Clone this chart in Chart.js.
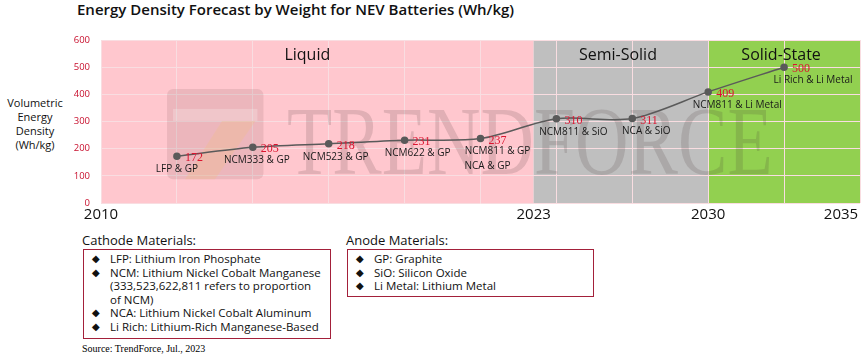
<!DOCTYPE html>
<html>
<head>
<meta charset="utf-8">
<script src="https://cdn.jsdelivr.net/npm/chart.js@4.4.0/dist/chart.umd.min.js"></script>
<style>
  body { margin: 0; background: #fff; font-family: "Open Sans", sans-serif; }
  #page { position: relative; width: 866px; height: 359px; overflow: hidden; }
  #wrap { position: absolute; left: 0; top: 0; width: 866px; height: 227px; }
  .title { position: absolute; left: 77px; top: -1px; font-size: 15px; font-weight: 600; color: #111; white-space: nowrap; }
  .ytitle { position: absolute; left: 0; top: 96px; width: 70px; text-align: center; font-size: 11px; line-height: 14px; color: #111; }
  .lgt { position: absolute; font-size: 13px; color: #111; white-space: nowrap; }
  .box { position: absolute; border: 1.5px solid #a3203a; box-sizing: border-box; padding-top: 2px; }
  .item { position: relative; padding-left: 26px; font-size: 11.5px; line-height: 13.6px; color: #111; }
  .item .b { position: absolute; left: 8px; top: 0; font-size: 10px; }
  .src { position: absolute; left: 82px; top: 343px; font-family: "Liberation Serif", serif; font-size: 10px; color: #000; white-space: nowrap; }
</style>
</head>
<body>
<div id="page">
  <div class="title">Energy Density Forecast by Weight for NEV Batteries (Wh/kg)</div>
  <div class="ytitle">Volumetric<br>Energy<br>Density<br>(Wh/kg)</div>
  <div id="wrap"><canvas id="chart"></canvas></div>

  <div class="lgt" style="left:82px; top:231px;">Cathode Materials:</div>
  <div class="box" style="left:83px; top:249px; width:248px; height:90px;">
    <div class="item"><span class="b">◆</span>LFP: Lithium Iron Phosphate</div>
    <div class="item"><span class="b">◆</span>NCM: Lithium Nickel Cobalt Manganese<br>(333,523,622,811 refers to proportion<br>of NCM)</div>
    <div class="item"><span class="b">◆</span>NCA: Lithium Nickel Cobalt Aluminum</div>
    <div class="item"><span class="b">◆</span>Li Rich: Lithium-Rich Manganese-Based</div>
  </div>

  <div class="lgt" style="left:346px; top:231px;">Anode Materials:</div>
  <div class="box" style="left:347px; top:249px; width:247px; height:48px;">
    <div class="item"><span class="b">◆</span>GP: Graphite</div>
    <div class="item"><span class="b">◆</span>SiO: Silicon Oxide</div>
    <div class="item"><span class="b">◆</span>Li Metal: Lithium Metal</div>
  </div>

  <div class="src">Source: TrendForce, Jul., 2023</div>
</div>

<script>
// data
const stepPos = [1, 2, 3, 4, 5, 6, 7, 8, 9];
const density = [172, 205, 218, 231, 237, 310, 311, 409, 500];
const combos = ["LFP & GP", "NCM333 & GP", "NCM523 & GP", "NCM622 & GP", ["NCM811 & GP", "NCA & GP"],
                "NCM811 & SiO", "NCA & SiO", "NCM811 & Li Metal", "Li Rich & Li Metal"];
const yearLabels = ["2010", "2023", "2030", "2035"];
const yearPos = [0, 5.7, 8, 9.75];
const stages = ["Liquid", "Semi-Solid", "Solid-State"];
const stageFrom = [0, 5.7, 8];
const stageTo = [5.7, 8, 10];
const stageColors = ["#ffc7ce", "#bfbfbf", "#92d050"];

// small nudges so the material text sits like the original
const comboDx = [0, 4, 7, 13, 12, 17, 14, 29, 29];

// background bands, stage names and the faint watermark
const stagePlugin = {
  id: "stages",
  beforeDraw(chart) {
    const { ctx, chartArea: a, scales: { x } } = chart;
    ctx.save();
    stages.forEach((s, i) => {
      const l = x.getPixelForValue(stageFrom[i]);
      const r = x.getPixelForValue(stageTo[i]);
      ctx.fillStyle = stageColors[i];
      ctx.fillRect(l, a.top, r - l, a.bottom - a.top);
    });
    ctx.restore();
  },
  beforeDatasetsDraw(chart) {
    const { ctx, chartArea: a, scales: { x, y } } = chart;
    ctx.save();
    ctx.beginPath();
    ctx.rect(a.left, a.top, a.right - a.left, a.bottom - a.top);
    ctx.clip();

    // logo square
    const lx = x.getPixelForValue(0.87), rx = x.getPixelForValue(2.14);
    const ty = y.getPixelForValue(420), by = y.getPixelForValue(87);
    ctx.fillStyle = "rgba(110,70,70,0.13)";
    ctx.beginPath();
    ctx.roundRect(lx, ty, rx - lx, by - ty, 6);
    ctx.fill();
    ctx.fillStyle = "rgba(255,255,255,0.22)";
    ctx.fillRect(lx + 6, ty + 20, rx - lx - 12, 12);
    ctx.fillStyle = "rgba(240,190,140,0.35)";
    ctx.beginPath();
    ctx.moveTo(lx + 55, ty + 32);
    ctx.lineTo(rx - 8, ty + 32);
    ctx.lineTo(lx + 48, by);
    ctx.lineTo(lx + 18, by);
    ctx.closePath();
    ctx.fill();

    // TRENDFORCE text
    const wl = x.getPixelForValue(2.45), wr = x.getPixelForValue(8.85);
    const base = y.getPixelForValue(105), top = y.getPixelForValue(340);
    const size = (base - top) / 0.66;
    ctx.font = size + "px 'Liberation Serif', serif";
    ctx.fillStyle = "rgba(70,50,50,0.16)";
    ctx.textBaseline = "alphabetic";
    const w = ctx.measureText("TRENDFORCE").width;
    ctx.translate(wl, base);
    ctx.scale((wr - wl) / w, 1);
    ctx.fillText("TRENDFORCE", 0, 0);
    ctx.restore();

    ctx.save();
    ctx.font = "16px 'Open Sans'";
    ctx.fillStyle = "#111";
    ctx.textAlign = "center";
    ctx.textBaseline = "alphabetic";
    stages.forEach((s, i) => {
      const c = x.getPixelForValue((stageFrom[i] + stageTo[i]) / 2);
      ctx.fillText(s, c - (i === 0 ? 10 : 3), a.top + 20);
    });
    ctx.restore();
  }
};

// value and material labels next to each point
const labelPlugin = {
  id: "pointLabels",
  afterDatasetsDraw(chart) {
    const { ctx } = chart;
    const pts = chart.getDatasetMeta(0).data;
    ctx.save();
    pts.forEach((p, i) => {
      ctx.font = "12px 'Liberation Serif', serif";
      ctx.fillStyle = "#dc1430";
      ctx.textAlign = "left";
      ctx.textBaseline = "middle";
      ctx.fillText(String(density[i]), p.x + 8, p.y + 2);

      ctx.font = "10px 'Open Sans'";
      ctx.fillStyle = "#1a1a1a";
      ctx.textAlign = "center";
      const lines = [].concat(combos[i]);
      lines.forEach((t, k) => {
        const dx = k === 0 ? comboDx[i] + (lines.length > 1 ? 5 : 0) : comboDx[i] - 5;
        ctx.fillText(t, p.x + dx, p.y + 13 + k * 15);
      });
    });
    ctx.restore();
  }
};

new Chart(document.getElementById("chart"), {
  type: "line",
  data: {
    datasets: [{
      data: stepPos.map((v, i) => ({ x: v, y: density[i] })),
      borderColor: "#5a5a5a",
      borderWidth: 1.5,
      backgroundColor: "#5a5a5a",
      pointRadius: 3,
      pointHoverRadius: 3,
      tension: 0.3,
      fill: false
    }]
  },
  options: {
    responsive: true,
    maintainAspectRatio: false,
    animation: false,
    layout: { padding: { top: 40, left: 0, right: 6, bottom: 0 } },
    plugins: { legend: { display: false }, tooltip: { enabled: false } },
    scales: {
      x: {
        type: "linear",
        min: 0, max: 10,
        position: "bottom",
        grid: { color: "#f9dde1", drawTicks: false },
        border: { display: false },
        ticks: { display: false, stepSize: 1 }
      },
      xl: {
        type: "linear",
        min: 0, max: 10,
        position: "bottom",
        grid: { display: false, drawTicks: false },
        border: { display: false },
        afterBuildTicks(s) { s.ticks = yearPos.map(v => ({ value: v })); },
        ticks: {
          autoSkip: false,
          maxRotation: 0,
          padding: 3,
          color: "#111",
          font: { family: "Open Sans", size: 15 },
          callback: v => yearLabels[yearPos.indexOf(v)]
        }
      },
      y: {
        min: 0, max: 600,
        afterFit(s) { s.width = 101; },
        grid: { color: "#f9dde1", drawTicks: false },
        border: { display: false },
        ticks: {
          stepSize: 100,
          padding: 11,
          color: "#c8102e",
          font: { family: "Open Sans", size: 9.5 }
        }
      }
    }
  },
  plugins: [stagePlugin, labelPlugin]
});
</script>
</body>
</html>
